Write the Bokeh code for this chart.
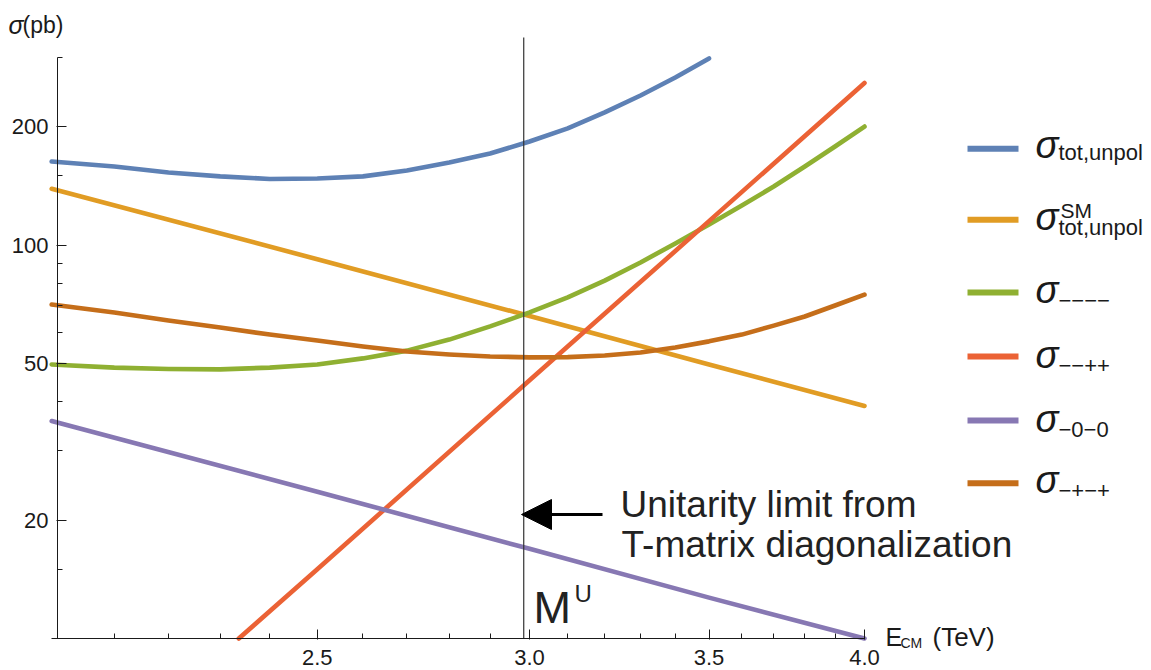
from bokeh.plotting import figure
from bokeh.models import (Range1d, FixedTicker, CustomJSTickFormatter, Label,
                          Arrow, NormalHead)
from bokeh.embed import file_html
from bokeh.resources import INLINE

# centre-of-mass energy grid (TeV) shared by the smooth helicity channels
energy = [1.99, 2.1, 2.2, 2.3, 2.4, 2.5, 2.6, 2.7, 2.8, 2.9, 3.0,
          3.1, 3.2, 3.3, 3.4, 3.5, 3.6, 3.7, 3.8, 3.9, 4.0]

# total unpolarised cross section (pb); leaves the plotted range at 3.5 TeV
energy_tot = [1.99, 2.1, 2.2, 2.3, 2.4, 2.5, 2.6, 2.7, 2.8, 2.9, 3.0,
              3.1, 3.2, 3.3, 3.4, 3.5]
sigma_tot = [163.0, 158.3, 152.9, 149.4, 147.2, 147.6, 149.4, 154.6, 162.1,
             170.8, 183.2, 197.8, 217.2, 239.9, 266.5, 298.0]

# Standard-Model total unpolarised cross section (pb)
energy_sm = [1.99, 2.5, 3.0, 3.5, 4.0]
sigma_sm = [139, 92, 66, 49.7, 39]

# helicity channels (pb)
sigma_mmmm = [49.7, 48.8, 48.4, 48.3, 48.8, 49.7, 51.5, 53.9, 57.5, 62.1, 67.4,
              73.6, 81.2, 90.3, 100.9, 112.7, 126.0, 140.8, 158.3, 178.0, 200.0]
energy_mmpp = [2.337, 2.5, 3.0, 3.5, 4.0]
sigma_mmpp = [10, 15.0, 45.3, 115, 258]
energy_m0m0 = [1.99, 2.5, 3.0, 3.5, 4.0]
sigma_m0m0 = [35.7, 23.6, 16.9, 12.7, 10.0]
sigma_mpmp = [70.6, 67.4, 64.3, 61.7, 59.2, 57.2, 55.2, 53.6, 52.7, 52.1, 51.8,
              51.9, 52.4, 53.3, 54.9, 56.9, 59.2, 62.4, 65.8, 70.2, 74.8]

# unitarity limit from the T-matrix diagonalisation (TeV)
m_unitarity = 2.985

x_major = [2.5, 3.0, 3.5, 4.0]
x_minor = [2.0, 2.1, 2.2, 2.3, 2.4, 2.6, 2.7, 2.8, 2.9,
           3.1, 3.2, 3.3, 3.4, 3.6, 3.7, 3.8, 3.9]
y_major = [20, 50, 100, 200]
y_minor = [10, 15, 30, 40, 60, 70, 80, 90, 150, 300]

BLUE, ORANGE, GREEN = "#5E81B5", "#E19C24", "#8FB032"
RED, PURPLE, BROWN = "#EB6235", "#8778B3", "#C56E1A"
INK = "#1a1a1a"
SANS = "Liberation Sans"


# canvas layout of the log-log frame: 2 TeV lies 57 px from the left edge and
# a decade of energy spans 2680.8 px; 10 pb lies 638 px below the top edge and
# a decade of cross section spans 393.5 px
def ex(px):
    return 2.0 * 10 ** ((px - 57) / 2680.8)


def sy(py):
    return 10.0 * 10 ** ((638 - py) / 393.5)


p = figure(width=1151, height=670, x_axis_type="log", y_axis_type="log",
           x_range=Range1d(ex(0), ex(1151)), y_range=Range1d(sy(670), sy(0)),
           min_border_left=0, min_border_right=0, min_border_top=0,
           min_border_bottom=0, output_backend="svg", toolbar_location=None,
           background_fill_color="white", border_fill_color="white",
           outline_line_color=None)
p.xgrid.visible = False
p.ygrid.visible = False

# axes cross at (2 TeV, 10 pb)
xa = p.xaxis[0]
xa.ticker = FixedTicker(ticks=x_major, minor_ticks=x_minor)
xa.formatter = CustomJSTickFormatter(code="return tick.toFixed(1)")
xa.bounds = (ex(51), 4.0)
xa.fixed_location = 10
xa.major_label_standoff = 10

ya = p.yaxis[0]
ya.ticker = FixedTicker(ticks=y_major, minor_ticks=y_minor)
ya.formatter = CustomJSTickFormatter(code="return tick.toFixed(0)")
ya.bounds = (10, 300)
ya.fixed_location = 2.0
ya.major_label_standoff = 8

for ax in (xa, ya):
    ax.axis_line_color = INK
    ax.axis_line_width = 1
    ax.major_tick_line_color = INK
    ax.minor_tick_line_color = INK
    ax.major_tick_in = 9
    ax.major_tick_out = 1
    ax.minor_tick_in = 5
    ax.minor_tick_out = 0
    ax.major_label_text_font = SANS
    ax.major_label_text_font_size = "22px"
    ax.major_label_text_color = INK

curve = dict(line_width=4.6, line_cap="round", line_join="round")
p.line(energy_tot, sigma_tot, line_color=BLUE, **curve)
p.line(energy_sm, sigma_sm, line_color=ORANGE, **curve)
p.line(energy, sigma_mmmm, line_color=GREEN, **curve)
p.line(energy_mmpp, sigma_mmpp, line_color=RED, **curve)
p.line(energy_m0m0, sigma_m0m0, line_color=PURPLE, **curve)
p.line(energy, sigma_mpmp, line_color=BROWN, **curve)

# vertical marker at M^U
p.segment(x0=[m_unitarity], y0=[10], x1=[m_unitarity], y1=[sy(37)],
          line_color="#333333", line_width=1.2)

p.add_layout(Arrow(end=NormalHead(size=30, fill_color="black", line_color="black"),
                   x_start=ex(602), y_start=sy(514), x_end=ex(521), y_end=sy(514),
                   line_width=3, line_color="black"))


def label(px, py, text, size, font=SANS, style="normal", color=INK):
    p.add_layout(Label(x=ex(px), y=sy(py), text=text, text_font=font,
                       text_font_size=size, text_font_style=style,
                       text_color=color, text_align="left",
                       text_baseline="alphabetic"))


label(620, 504, "Unitarity limit from", "37px", color="#222222")
label(621, 544, "T-matrix diagonalization", "37px", color="#222222")
label(533, 607, "M", "45px", color="#222222")
label(574, 593, "U", "24px", color="#222222")

# axis titles
label(8, 24, "σ", "25px", style="italic")
label(22, 24, "(pb)", "23px")
label(885, 636, "E", "25px")
label(900, 642, "CM", "14px")
label(932, 636, "(TeV)", "26px")

# legend: sample line, σ, subscript and optional superscript
legend_rows = [
    (148.3, BLUE, 144, "tot,unpol", 152, None),
    (219.3, ORANGE, 216, "tot,unpol", 227, "SM"),
    (292.0, GREEN, 289, "−−−−", 300, None),
    (356.0, RED, 354, "−−++", 365, None),
    (420.0, PURPLE, 418, "−0−0", 429, None),
    (482.7, BROWN, 479, "−+−+", 490, None),
]
for line_py, color, base_py, sub, sub_py, sup in legend_rows:
    p.segment(x0=[ex(967)], y0=[sy(line_py)], x1=[ex(1018)], y1=[sy(line_py)],
              line_color=color, line_width=6)
    label(1035, base_py, "σ", "38px", style="italic")
    label(1058, sub_py, sub, "22px")
    if sup:
        label(1060, 210, sup, "21px")

open("out.html", "w").write(file_html(p, INLINE))
